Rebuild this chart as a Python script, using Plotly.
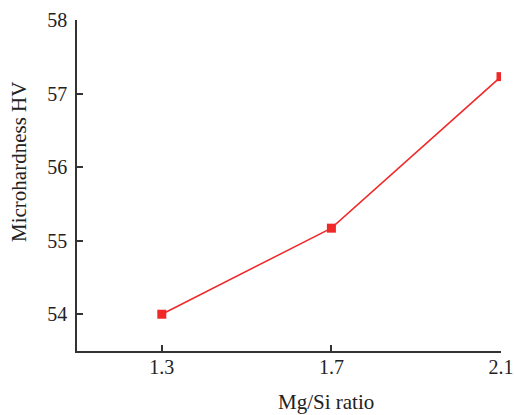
import plotly.graph_objects as go

mg_si_ratio = [1.3, 1.7, 2.1]
microhardness = [54.0, 55.17, 57.23]
x_ticks = [1.3, 1.7, 2.1]
y_ticks = [54, 55, 56, 57, 58]
x_title = "Mg/Si ratio"
y_title = "Microhardness HV"

fig = go.Figure()
fig.add_trace(go.Scatter(
    x=mg_si_ratio, y=microhardness, mode="lines+markers",
    line=dict(color="#f02828", width=1.5),
    marker=dict(symbol="square", size=9, color="#f02828"),
    showlegend=False,
))

fig.update_layout(
    width=514, height=415,
    margin=dict(l=77, r=13, t=20, b=64, autoexpand=False),
    paper_bgcolor="white", plot_bgcolor="white",
    font=dict(family="Liberation Serif", size=20, color="#222"),
)
fig.update_xaxes(
    range=[1.1, 2.1], tickvals=x_ticks, ticktext=[str(v) for v in x_ticks],
    ticks="inside", ticklen=6, tickwidth=1.5, tickcolor="#333",
    tickfont=dict(size=20), ticklabelstandoff=-3, ticklabeloverflow="allow",
    showline=True, linecolor="#333", linewidth=1.5, showgrid=False, zeroline=False,
    automargin=False,
)
fig.update_yaxes(
    range=[53.5, 58], tickvals=y_ticks,
    ticks="inside", ticklen=6, tickwidth=1.5, tickcolor="#333",
    tickfont=dict(size=20), ticklabelstandoff=4, ticklabeloverflow="allow",
    showline=True, linecolor="#333", linewidth=1.5, showgrid=False, zeroline=False,
    automargin=False,
)
fig.add_annotation(text=x_title, xref="paper", yref="paper", x=0.587, y=-0.155,
                   xanchor="center", yanchor="middle", showarrow=False,
                   font=dict(size=21))
fig.add_annotation(text=y_title, xref="paper", yref="paper", x=-0.138, y=0.5725,
                   xanchor="center", yanchor="middle", showarrow=False,
                   textangle=-90, font=dict(size=21))
fig.write_html("out.html")
